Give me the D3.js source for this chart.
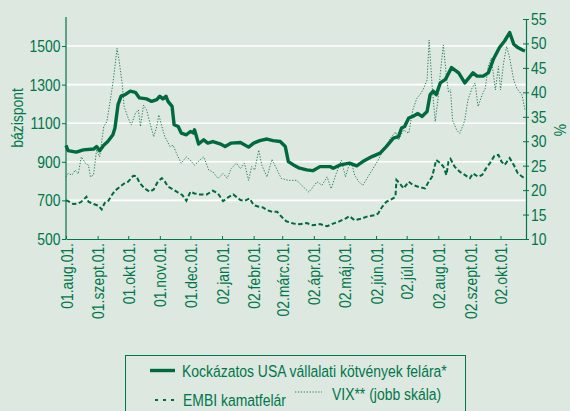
<!DOCTYPE html>
<html>
<head>
<meta charset="utf-8">
<script src="https://cdn.jsdelivr.net/npm/d3@7"></script>
<style>
  html, body { margin: 0; padding: 0; background: #dde8e1; }
  svg { display: block; }
  text { font-family: "Liberation Sans", Arial, sans-serif; fill: #00764a; }
</style>
</head>
<body>
<svg id="chart" width="570" height="411"></svg>
<script>
// Kockázatos USA vállalati kötvények felára (bázispont)
const hyDates = ["2001-08-01","2001-08-03","2001-08-11","2001-08-18","2001-08-28","2001-08-31","2001-09-03","2001-09-07","2001-09-11","2001-09-16","2001-09-18","2001-09-21","2001-09-24","2001-09-28","2001-10-03","2001-10-08","2001-10-12","2001-10-19","2001-10-24","2001-10-29","2001-11-01","2001-11-04","2001-11-07","2001-11-09","2001-11-13","2001-11-15","2001-11-19","2001-11-22","2001-11-27","2001-12-01","2001-12-04","2001-12-05","2001-12-09","2001-12-14","2001-12-18","2001-12-23","2001-12-30","2002-01-04","2002-01-10","2002-01-19","2002-01-27","2002-02-01","2002-02-07","2002-02-14","2002-02-20","2002-02-27","2002-03-04","2002-03-07","2002-03-12","2002-03-18","2002-03-25","2002-03-31","2002-04-07","2002-04-17","2002-04-20","2002-04-27","2002-05-06","2002-05-13","2002-05-19","2002-05-28","2002-06-05","2002-06-11","2002-06-18","2002-06-23","2002-06-26","2002-06-29","2002-07-03","2002-07-07","2002-07-12","2002-07-16","2002-07-21","2002-07-24","2002-07-27","2002-07-30","2002-08-03","2002-08-08","2002-08-14","2002-08-21","2002-08-27","2002-09-04","2002-09-08","2002-09-14","2002-09-19","2002-09-24","2002-09-30","2002-10-05","2002-10-10","2002-10-14","2002-10-18","2002-10-23","2002-10-25"];
const hyValues = [985,958,950,962,966,979,958,986,1005,1040,1075,1196,1240,1248,1266,1260,1231,1226,1213,1222,1240,1226,1240,1213,1187,1092,1083,1049,1040,1057,1049,1066,992,1014,997,1005,993,979,997,1000,976,997,1010,1018,1010,1005,979,901,884,867,858,854,875,875,867,884,893,879,901,927,945,979,1023,1031,1075,1083,1127,1135,1150,1135,1161,1248,1266,1248,1309,1327,1388,1361,1309,1361,1344,1344,1361,1431,1492,1526,1570,1509,1492,1478,1474];

// EMBI kamatfelár (bázispont)
const embiDates = ["2001-08-01","2001-08-03","2001-08-08","2001-08-13","2001-08-16","2001-08-21","2001-08-23","2001-08-28","2001-09-02","2001-09-05","2001-09-08","2001-09-11","2001-09-15","2001-09-18","2001-09-23","2001-09-28","2001-10-01","2001-10-06","2001-10-09","2001-10-12","2001-10-17","2001-10-22","2001-10-26","2001-10-30","2001-11-03","2001-11-06","2001-11-09","2001-11-14","2001-11-19","2001-11-23","2001-11-27","2001-12-01","2001-12-05","2001-12-10","2001-12-17","2001-12-23","2001-12-28","2002-01-02","2002-01-07","2002-01-12","2002-01-19","2002-01-23","2002-01-28","2002-02-01","2002-02-06","2002-02-10","2002-02-14","2002-02-19","2002-02-24","2002-02-27","2002-03-02","2002-03-05","2002-03-12","2002-03-18","2002-03-25","2002-03-31","2002-04-07","2002-04-14","2002-04-20","2002-04-25","2002-05-02","2002-05-06","2002-05-11","2002-05-18","2002-05-24","2002-05-31","2002-06-03","2002-06-07","2002-06-11","2002-06-16","2002-06-20","2002-06-21","2002-06-24","2002-06-28","2002-07-03","2002-07-07","2002-07-14","2002-07-19","2002-07-22","2002-07-26","2002-07-30","2002-08-03","2002-08-06","2002-08-09","2002-08-11","2002-08-13","2002-08-17","2002-08-22","2002-08-27","2002-09-01","2002-09-04","2002-09-09","2002-09-13","2002-09-17","2002-09-21","2002-09-25","2002-09-29","2002-10-02","2002-10-05","2002-10-10","2002-10-14","2002-10-18","2002-10-23","2002-10-25"];
const embiValues = [702,696,681,684,693,719,693,681,672,653,688,693,728,750,771,792,797,828,826,792,762,745,757,797,815,797,771,757,740,728,698,745,736,731,731,750,736,696,716,731,702,698,710,676,667,664,650,641,641,623,606,592,580,577,583,571,577,566,580,589,606,618,597,606,618,623,632,667,693,705,719,806,789,762,797,780,768,762,792,823,910,893,875,832,901,915,875,849,832,815,840,823,832,867,896,931,936,901,884,919,884,840,820,815];

// VIX** (jobb skála, %)
const vixDates = ["2001-08-01","2001-08-03","2001-08-07","2001-08-10","2001-08-13","2001-08-16","2001-08-20","2001-08-23","2001-08-25","2001-08-28","2001-08-31","2001-09-03","2001-09-07","2001-09-10","2001-09-13","2001-09-16","2001-09-18","2001-09-20","2001-09-22","2001-09-25","2001-09-27","2001-10-01","2001-10-04","2001-10-08","2001-10-11","2001-10-13","2001-10-16","2001-10-19","2001-10-22","2001-10-26","2001-10-29","2001-10-31","2001-11-03","2001-11-06","2001-11-11","2001-11-14","2001-11-18","2001-11-22","2001-11-27","2001-12-01","2001-12-05","2001-12-10","2001-12-14","2001-12-19","2001-12-23","2001-12-28","2002-01-02","2002-01-06","2002-01-10","2002-01-15","2002-01-19","2002-01-23","2002-01-27","2002-01-30","2002-02-02","2002-02-06","2002-02-09","2002-02-14","2002-02-19","2002-02-24","2002-02-28","2002-03-07","2002-03-15","2002-03-20","2002-03-27","2002-03-30","2002-04-04","2002-04-09","2002-04-14","2002-04-18","2002-04-23","2002-04-28","2002-05-02","2002-05-05","2002-05-08","2002-05-11","2002-05-15","2002-05-19","2002-05-24","2002-05-29","2002-06-03","2002-06-07","2002-06-11","2002-06-15","2002-06-20","2002-06-23","2002-06-28","2002-07-03","2002-07-07","2002-07-11","2002-07-14","2002-07-17","2002-07-21","2002-07-23","2002-07-26","2002-07-29","2002-08-01","2002-08-03","2002-08-06","2002-08-09","2002-08-11","2002-08-13","2002-08-15","2002-08-19","2002-08-22","2002-08-25","2002-08-27","2002-08-30","2002-09-03","2002-09-06","2002-09-09","2002-09-13","2002-09-16","2002-09-19","2002-09-22","2002-09-26","2002-09-29","2002-10-01","2002-10-04","2002-10-07","2002-10-10","2002-10-14","2002-10-17","2002-10-22","2002-10-25"];
const vixValues = [22.7,23.4,23.1,24.1,23.3,26.8,25.5,25.1,22.7,23.1,28.2,26.8,33.0,34.0,37.8,41.9,45.3,49.0,46.6,41.9,37.1,34.7,33.3,35.7,36.4,33.0,37.4,36.4,34.0,30.9,33.0,35.4,33.0,30.9,28.9,29.2,27.2,25.5,26.8,26.1,25.1,26.1,26.8,24.1,23.7,22.4,23.4,22.4,24.4,25.5,24.4,25.5,22.0,24.8,24.1,28.2,25.1,22.7,26.3,24.1,22.4,22.0,22.0,21.0,19.6,20.3,21.7,21.0,22.7,20.3,23.4,26.1,22.7,24.8,25.5,23.1,21.7,21.0,22.7,24.4,26.1,27.8,28.9,30.6,31.9,30.2,32.3,31.6,36.4,38.8,39.5,40.5,42.5,50.7,41.2,34.0,39.1,43.9,49.7,43.2,40.1,40.5,34.3,32.3,31.6,33.1,34.3,38.4,40.8,41.9,37.1,39.5,40.8,45.3,47.0,40.5,45.3,40.5,46.0,49.4,47.0,42.5,40.8,39.5,36.4];

// Tengelyek
const monthTicks = ["2001-08-01","2001-09-01","2001-10-01","2001-11-01","2001-12-01","2002-01-01","2002-02-01","2002-03-01","2002-04-01","2002-05-01","2002-06-01","2002-07-01","2002-08-01","2002-09-01","2002-10-01"];
const monthLabels = ["01.aug.01.","01.szept.01.","01.okt.01.","01.nov.01.","01.dec.01.","02.jan.01.","02.febr.01.","02.márc.01.","02.ápr.01.","02.máj.01.","02.jún.01.","02.júl.01.","02.aug.01.","02.szept.01.","02.okt.01."];
const leftTicks = [500, 700, 900, 1100, 1300, 1500];
const rightTicks = [10, 15, 20, 25, 30, 35, 40, 45, 50, 55];
const seriesNames = ["Kockázatos USA vállalati kötvények felára*", "EMBI kamatfelár", "VIX** (jobb skála)"];

const GREEN = "#00764a";
const LINE = "#006a3e";
const DOT = "#2a8058";
const FS = 17;          // betűméret
const NARROW = 0.82;    // keskeny betűkép vízszintes sűrítése
const parse = d3.timeParse("%Y-%m-%d");

const svg = d3.select("#chart");
const x = d3.scaleTime().domain([parse("2001-08-01"), parse("2002-10-26")]).range([66, 526]);
const yL = d3.scaleLinear().domain([500, 1640]).range([239, 19]);
const yR = d3.scaleLinear().domain([10, 55]).range([239, 19]);

// keskeny szöveg: elhelyezés után vízszintesen sűrítve
function narrowText(sel, px, py, rot, anchor, str) {
  return sel.append("text")
    .attr("transform", `translate(${px},${py})${rot ? ` rotate(${rot})` : ""} scale(${NARROW},1)`)
    .attr("text-anchor", anchor).attr("font-size", FS).text(str);
}

// vízszintes rácsvonalak
svg.append("g").selectAll("line")
  .data(leftTicks.filter(v => v > 500))
  .join("line")
  .attr("x1", x.range()[0]).attr("x2", x.range()[1])
  .attr("y1", d => yL(d)).attr("y2", d => yL(d))
  .attr("stroke", "#ffffff").attr("stroke-width", 1.6);

// bal tengely
const gL = svg.append("g").attr("transform", `translate(${x.range()[0]},0)`)
  .call(d3.axisLeft(yL).tickValues(leftTicks).tickFormat(d3.format("d")).tickSize(4).tickSizeOuter(0));
gL.select(".domain").attr("stroke", GREEN).attr("stroke-width", 1.2).attr("d", `M0,${yL.range()[1] - 2}V${yL.range()[0]}`);
gL.selectAll(".tick line").attr("stroke", GREEN);
gL.selectAll(".tick text")
  .attr("font-size", FS).attr("fill", GREEN).style("font-family", null)
  .attr("x", 0).attr("transform", `translate(-5.5,0) scale(${NARROW},1)`);

// jobb tengely
const gR = svg.append("g").attr("transform", `translate(${x.range()[1]},0)`)
  .call(d3.axisRight(yR).tickValues(rightTicks).tickSize(3).tickSizeOuter(0));
gR.select(".domain").attr("stroke", GREEN).attr("stroke-width", 1.2);
gR.selectAll(".tick line").attr("stroke", GREEN).attr("x1", -3).attr("x2", 3);
gR.selectAll(".tick text")
  .attr("font-size", FS).attr("fill", GREEN).style("font-family", null)
  .attr("x", 0).attr("transform", `translate(5,0) scale(${NARROW},1)`);

// alsó tengely
const gB = svg.append("g").attr("transform", `translate(0,${yL.range()[0]})`)
  .call(d3.axisBottom(x).tickValues(monthTicks.map(parse)).tickSize(-3).tickSizeOuter(0)
    .tickFormat((d, i) => monthLabels[i]));
gB.select(".domain").attr("stroke", GREEN).attr("stroke-width", 1.2);
gB.selectAll(".tick line").attr("stroke", GREEN);
gB.selectAll(".tick text")
  .attr("font-size", FS).attr("fill", GREEN).style("font-family", null)
  .attr("transform", `translate(0,4) rotate(-90) scale(${NARROW},1)`)
  .attr("text-anchor", "end")
  .attr("x", 0).attr("y", 0).attr("dy", "0.36em");

// tengelyfeliratok
narrowText(svg, 23, 118, -90, "middle", "bázispont");
narrowText(svg, 566, 130, -90, "middle", "%");

// adatsorok
const toPoints = (dates, vals) => dates.map((d, i) => [parse(d), vals[i]]);
const lineL = d3.line().x(d => x(d[0])).y(d => yL(d[1]));
const lineR = d3.line().x(d => x(d[0])).y(d => yR(d[1]));

svg.append("path").datum(toPoints(vixDates, vixValues))
  .attr("d", lineR).attr("fill", "none").attr("stroke", DOT)
  .attr("stroke-width", 1).attr("stroke-dasharray", "1.3,1.6");

svg.append("path").datum(toPoints(embiDates, embiValues))
  .attr("d", lineL).attr("fill", "none").attr("stroke", LINE)
  .attr("stroke-width", 2).attr("stroke-dasharray", "4.5,2.5");

svg.append("path").datum(toPoints(hyDates, hyValues))
  .attr("d", lineL).attr("fill", "none").attr("stroke", LINE)
  .attr("stroke-width", 3.4).attr("stroke-linejoin", "round");

// jelmagyarázat
const lg = svg.append("g");
lg.append("rect").attr("x", 125.5).attr("y", 355.5).attr("width", 340).attr("height", 70)
  .attr("fill", "none").attr("stroke", GREEN).attr("stroke-width", 1);
lg.append("line").attr("x1", 150).attr("x2", 175).attr("y1", 370.5).attr("y2", 370.5)
  .attr("stroke", LINE).attr("stroke-width", 3.4);
narrowText(lg, 182, 377, 0, "start", seriesNames[0]);
lg.append("line").attr("x1", 155).attr("x2", 176).attr("y1", 400).attr("y2", 400)
  .attr("stroke", LINE).attr("stroke-width", 2).attr("stroke-dasharray", "3,5");
narrowText(lg, 183, 406, 0, "start", seriesNames[1]);
lg.append("line").attr("x1", 295).attr("x2", 322).attr("y1", 392).attr("y2", 392)
  .attr("stroke", DOT).attr("stroke-width", 1).attr("stroke-dasharray", "1.3,1.6");
narrowText(lg, 332, 400, 0, "start", seriesNames[2]);
</script>
</body>
</html>
